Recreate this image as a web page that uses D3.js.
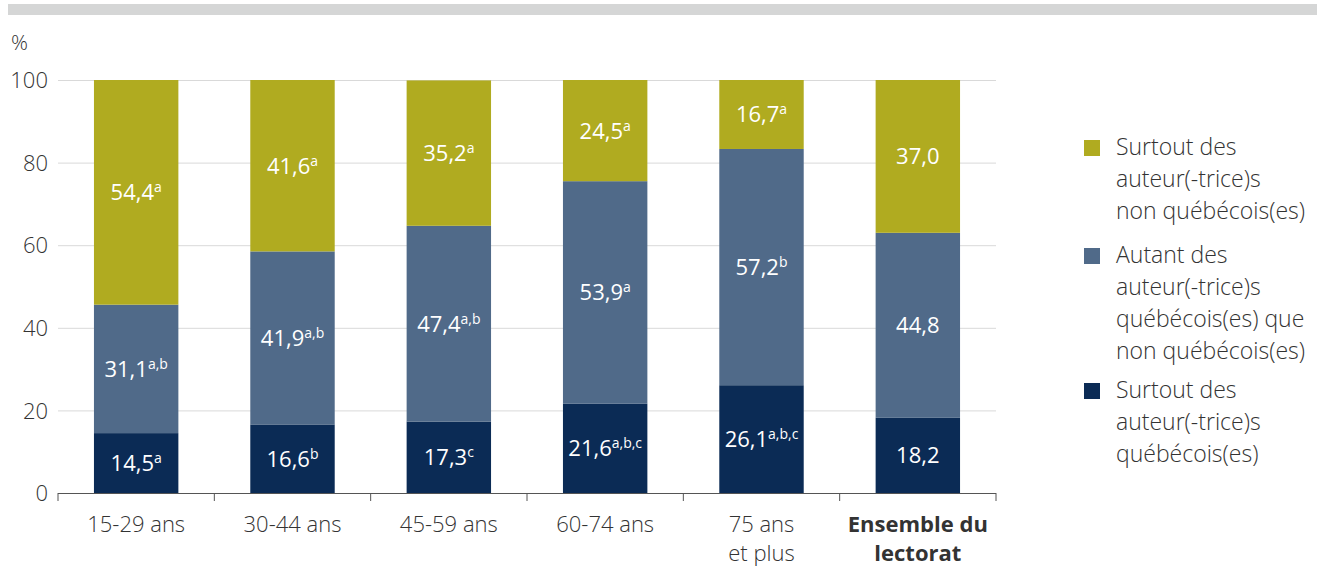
<!DOCTYPE html>
<html lang="fr">
<head>
  <meta charset="UTF-8">
  <title></title>
  <style>
    html, body {
      margin: 0;
      overflow: hidden;
      width: 100%;
      height: 100%;
      background: #fff;
    }
    svg {
      position: absolute;
      top: 0;
      left: 0;
      font-family: "Open Sans", "Noto Sans", sans-serif;
      font-weight: 300;
    }
  </style>
</head>
<body>
  <svg width="1317" height="566"></svg>
</body>
<script src="https://d3js.org/d3.v7.min.js"></script>
<script type="text/javascript">
  const categories = [['15-29 ans'], ['30-44 ans'], ['45-59 ans'], ['60-74 ans'], ['75 ans', 'et plus'], ['Ensemble du', 'lectorat']]
  const quebecois = [14.5, 16.6, 17.3, 21.6, 26.1, 18.2]
  const autant = [31.1, 41.9, 47.4, 53.9, 57.2, 44.8]
  const nonQuebecois = [54.4, 41.6, 35.2, 24.5, 16.7, 37.0]
  const supQuebecois = ['a', 'b', 'c', 'a,b,c', 'a,b,c', '']
  const supAutant = ['a,b', 'a,b', 'a,b', 'a', 'b', '']
  const supNonQuebecois = ['a', 'a', 'a', 'a', 'a', '']
  const yTicks = [0, 20, 40, 60, 80, 100]

  const series = [
    { name: ['Surtout des', 'auteur(-trice)s', 'québécois(es)'], values: quebecois, sups: supQuebecois, color: '#0b2b55' },
    { name: ['Autant des', 'auteur(-trice)s', 'québécois(es) que', 'non québécois(es)'], values: autant, sups: supAutant, color: '#506a89' },
    { name: ['Surtout des', 'auteur(-trice)s', 'non québécois(es)'], values: nonQuebecois, sups: supNonQuebecois, color: '#b0ab20' }
  ]

  const svg = d3.select('svg')
  const plotLeft = 58, plotRight = 996, plotTop = 80, plotBottom = 493
  const fs = 22

  // top band
  svg.append('rect').attr('x', 8).attr('y', 4).attr('width', 1309).attr('height', 11).attr('fill', '#d5d6d6')

  const x = d3.scaleBand().domain(d3.range(categories.length)).range([plotLeft, plotRight]).paddingInner(0.46).paddingOuter(0.23)
  const y = d3.scaleLinear().domain([0, 100]).range([plotBottom, plotTop])

  svg.append('text').attr('x', 11).attr('y', 50).attr('font-size', 21).attr('fill', '#333').text('%')

  const yAxis = svg.append('g').attr('transform', `translate(${plotLeft},0)`)
    .call(d3.axisLeft(y).tickValues(yTicks).tickSize(-(plotRight - plotLeft)).tickPadding(10))
  yAxis.attr('font-family', null).attr('font-size', null)
  yAxis.select('.domain').remove()
  yAxis.selectAll('.tick line').attr('stroke', '#d9d9d9').attr('stroke-width', 1)
  yAxis.selectAll('.tick text').attr('font-size', fs).attr('fill', '#333').attr('x', -10).attr('dy', '0.35em')

  // stacked bars
  const cum = categories.map(() => 0)
  series.forEach(s => {
    const g = svg.append('g')
    s.values.forEach((v, i) => {
      const y0 = cum[i], y1 = Math.min(100, cum[i] + v)
      cum[i] = y1
      g.append('rect')
        .attr('x', x(i)).attr('width', x.bandwidth())
        .attr('y', y(y1)).attr('height', y(y0) - y(y1))
        .attr('fill', s.color)
      const t = g.append('text')
        .attr('x', x(i) + x.bandwidth() / 2)
        .attr('y', (y(y0) + y(y1)) / 2 + 8)
        .attr('text-anchor', 'middle')
        .attr('fill', '#fff').attr('font-size', fs).attr('font-weight', 400)
      t.append('tspan').text(v.toFixed(1).replace('.', ','))
      if (s.sups[i]) {
        t.append('tspan').attr('dy', -8).attr('font-size', 14).text(s.sups[i])
      }
    })
  })

  // x axis with boundary ticks
  const xa = svg.append('g')
  xa.append('line').attr('x1', plotLeft).attr('x2', plotRight).attr('y1', plotBottom + 0.5).attr('y2', plotBottom + 0.5).attr('stroke', '#555')
  const step = (plotRight - plotLeft) / categories.length
  d3.range(categories.length + 1).forEach(k => {
    xa.append('line').attr('x1', plotLeft + k * step).attr('x2', plotLeft + k * step)
      .attr('y1', plotBottom).attr('y2', plotBottom + 8).attr('stroke', '#555')
  })
  categories.forEach((lines, i) => {
    const t = xa.append('text')
      .attr('x', x(i) + x.bandwidth() / 2).attr('y', 532)
      .attr('text-anchor', 'middle').attr('font-size', fs).attr('fill', '#333')
      .attr('font-weight', i === categories.length - 1 ? 'bold' : 300)
    lines.forEach((l, j) => t.append('tspan').attr('x', x(i) + x.bandwidth() / 2).attr('dy', j ? 29 : 0).text(l))
  })

  // legend
  const legendY = [147, 255, 390]
  const legendOrder = [2, 1, 0]
  legendOrder.forEach((si, k) => {
    const s = series[si]
    const g = svg.append('g')
    g.append('rect').attr('x', 1084).attr('y', legendY[k] - 7).attr('width', 16).attr('height', 16).attr('fill', s.color)
    const t = g.append('text').attr('x', 1116).attr('y', legendY[k] + 8).attr('font-size', 23).attr('fill', '#333')
    s.name.forEach((l, j) => t.append('tspan').attr('x', 1116).attr('dy', j ? 32 : 0).text(l))
  })
</script>
</html>
